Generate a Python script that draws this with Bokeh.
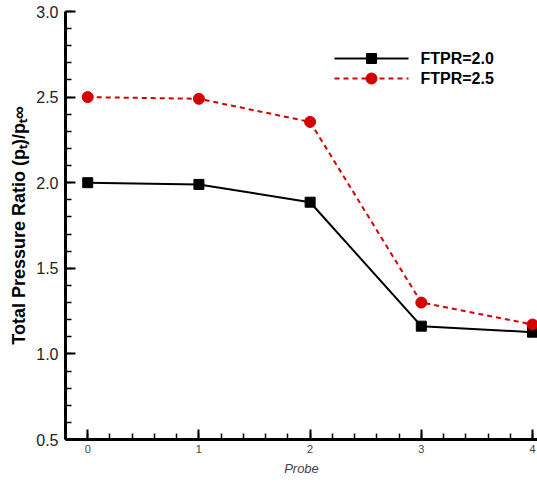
import numpy as np
from bokeh.plotting import figure
from bokeh.models import FixedTicker, Range1d, NumeralTickFormatter
from bokeh.embed import file_html
from bokeh.resources import INLINE

probe = [0, 1, 2, 3, 4]
ftpr_20 = [2.0, 1.99, 1.886, 1.162, 1.127]
ftpr_25 = [2.5, 2.49, 2.355, 1.300, 1.172]
series_labels = ["FTPR=2.0", "FTPR=2.5"]
x_ticks = [0, 1, 2, 3, 4]
y_ticks = [0.5, 1.0, 1.5, 2.0, 2.5, 3.0]
x_minor = list(np.round(np.arange(-0.2, 4.05, 0.2), 3))
y_minor = list(np.round(np.arange(0.5, 3.01, 0.1), 3))

X0, X1, Y0, Y1 = -0.2, 4.045, 0.5, 3.0
W, H = 537, 486
FL, FR, FT, FB = 65, 0, 11, 47
xpx = (W - FL - FR) / (X1 - X0)
ypx = (H - FT - FB) / (Y1 - Y0)


def sx(px):
    return X0 + (px - FL) / xpx


def sy(py):
    return Y1 - (py - FT) / ypx


p = figure(width=W, height=H, output_backend="svg", toolbar_location=None,
           x_range=Range1d(X0, X1), y_range=Range1d(Y0, Y1),
           min_border_left=FL, min_border_right=FR, min_border_top=FT,
           min_border_bottom=FB)
p.outline_line_color = None
p.xgrid.visible = False
p.ygrid.visible = False

p.line(probe, ftpr_20, line_color="black", line_width=2)
p.scatter(probe, ftpr_20, marker="square", size=10, fill_color="black", line_color="black")
p.line(probe, ftpr_25, line_color="#d40000", line_width=2, line_dash="5 4")
p.scatter(probe, ftpr_25, marker="circle", size=11, fill_color="#d40000", line_color="#d40000")

gx0, gx1, tx = sx(334), sx(408), sx(420)
row1, row2 = sy(58), sy(78)
p.line([gx0, gx1], [row1, row1], line_color="black", line_width=2)
p.scatter([(gx0 + gx1) / 2], [row1], marker="square", size=10, fill_color="black", line_color="black")
p.line([gx0, gx1], [row2, row2], line_color="#d40000", line_width=2, line_dash="5 4")
p.scatter([(gx0 + gx1) / 2], [row2], marker="circle", size=11, fill_color="#d40000", line_color="#d40000")
p.text([tx, tx], [row1, row2], text=series_labels, text_font_size="16px",
       text_font_style="bold", text_baseline="middle", text_align="left", text_color="black")

p.xaxis.ticker = FixedTicker(ticks=x_ticks, minor_ticks=x_minor)
p.yaxis.ticker = FixedTicker(ticks=y_ticks, minor_ticks=y_minor)
p.yaxis.formatter = NumeralTickFormatter(format="0.0")

for ax in (p.xaxis[0], p.yaxis[0]):
    ax.axis_line_color = "#000000"
    ax.axis_line_width = 3
    ax.major_tick_in = 10
    ax.major_tick_out = 0
    ax.minor_tick_in = 6
    ax.minor_tick_out = 0
    ax.major_tick_line_width = 2
    ax.minor_tick_line_width = 1.5
    ax.major_tick_line_color = "#000000"
    ax.minor_tick_line_color = "#000000"

# y axis: full text styling
p.yaxis.major_label_text_font_size = "16px"
p.yaxis.major_label_text_color = "#222222"
p.yaxis.axis_label_text_font_size = "18px"
p.yaxis.axis_label_text_font_style = "bold"
p.yaxis.axis_label_text_color = "black"
p.yaxis.axis_label = "Total Pressure Ratio (pₜ)/pₜ∞"
p.yaxis.major_label_standoff = 7
p.yaxis.axis_label_standoff = 4

# x axis: default text styling
p.xaxis.axis_label = "Probe"

open("out.html", "w").write(file_html(p, INLINE))
